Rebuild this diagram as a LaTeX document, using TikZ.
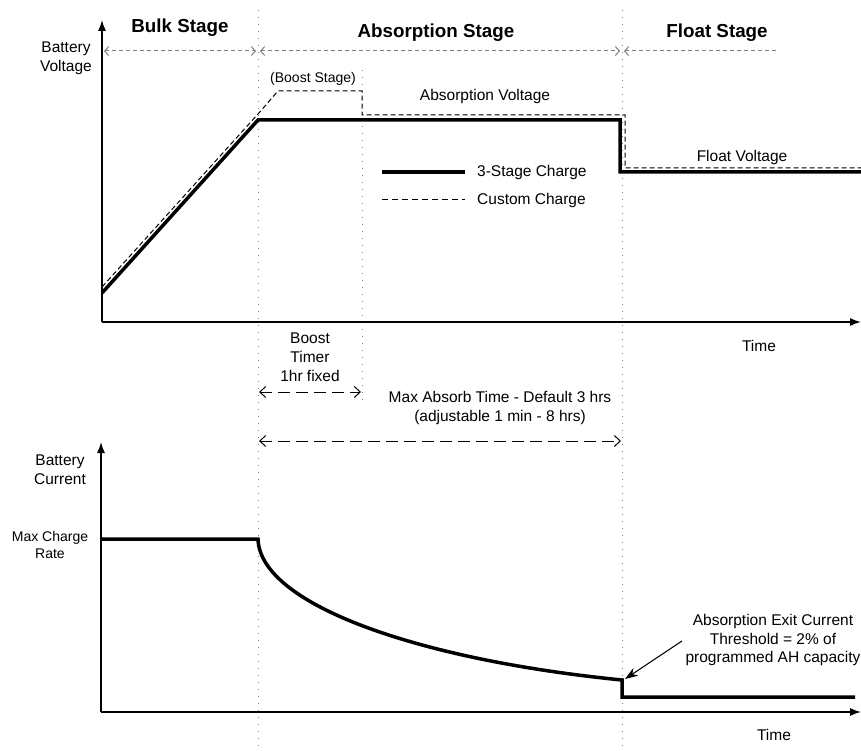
\documentclass[tikz,border=0pt]{standalone}
\usepackage{fontspec}
\setmainfont{Liberation Sans}
\usepackage{tikz}
\usetikzlibrary{arrows.meta}
\tikzset{
  txt/.style={inner sep=0pt, align=center, font=\fontsize{15.5}{19}\selectfont},
  smalltxt/.style={inner sep=0pt, align=center, font=\fontsize{14}{17}\selectfont},
  stagetxt/.style={inner sep=0pt, font=\fontsize{18.8}{22}\selectfont\bfseries},
  axis/.style={line width=1.4pt, -{Latex[length=11pt,width=8pt]}},
  charge/.style={line width=3.5pt, line join=miter},
  custom/.style={line width=1pt, dash pattern=on 5pt off 3pt},
  divider/.style={gray, line width=1pt, dash pattern=on 1pt off 6pt},
  stagearrow/.style={gray, line width=1pt, dash pattern=on 4pt off 3pt},
  timearrow/.style={line width=1pt, dash pattern=on 12pt off 6pt, {Straight Barb[length=6pt,width=11pt]}-{Straight Barb[length=6pt,width=11pt]}}
}
\begin{document}
\begin{tikzpicture}[x=1pt, y=-1pt]
  \useasboundingbox (0,0) rectangle (861,751);
  % stage dividers
  \draw[divider] (258,10) -- (258,748);
  \draw[divider] (622,10) -- (622,748);
  \draw[divider] (362,70) -- (362,406);
  % stage headings
  \node[stagetxt] (bulk) at (180,28) {Bulk Stage};
  \node[stagetxt] (absorb) at (436,33) {Absorption Stage};
  \node[stagetxt] (float) at (717,33) {Float Stage};
  \draw[stagearrow, {Straight Barb[length=4pt,width=9pt]}-{Straight Barb[length=4pt,width=9pt]}] (104,51) -- (256,51);
  \draw[stagearrow, {Straight Barb[length=4pt,width=9pt]}-{Straight Barb[length=4pt,width=9pt]}] (260,51) -- (620,51);
  \draw[stagearrow, {Straight Barb[length=4pt,width=9pt]}-] (624,51) -- (778,51);
  % voltage graph
  \coordinate (vo) at (102,322);
  \draw[axis] (vo) -- (102,20);
  \draw[axis] (vo) -- (861,322);
  \node[txt] (vlabel) at (66,58) {Battery\\Voltage};
  \node[txt] (vtime) at (759,346) {Time};
  \draw[custom] (102,287) -- (258,114) -- (278,91) -- (362,91) -- (362,115)
    -- (625,115) -- (625,168) -- (861,168);
  \draw[charge] (102,293) -- (258,120) -- (620,120) -- (620,172) -- (861,172);
  \node[smalltxt] (boost) at (313,79) {(Boost Stage)};
  \node[txt] (absv) at (485,96) {Absorption Voltage};
  \node[txt] (floatv) at (742,157) {Float Voltage};
  % legend
  \draw[charge] (382,172) -- (465,172);
  \node[txt, anchor=west] (leg1) at (477,172) {3-Stage Charge};
  \draw[line width=1pt, dash pattern=on 6pt off 4pt] (382,200) -- (465,200);
  \node[txt, anchor=west] (leg2) at (477,200) {Custom Charge};
  % timers
  \node[txt] (timer) at (310,357) {Boost\\Timer\\1hr fixed};
  \draw[timearrow] (259,392) -- (361,392);
  \node[txt] (maxabs) at (500,408) {Max Absorb Time - Default 3 hrs\\(adjustable 1 min - 8 hrs)};
  \draw[timearrow] (259,441) -- (621,441);
  % current graph
  \coordinate (io) at (101,712);
  \draw[axis] (io) -- (101,442);
  \draw[axis] (io) -- (861,712);
  \node[txt] (ilabel) at (60,470) {Battery\\Current};
  \node[smalltxt] (maxrate) at (50,545) {Max Charge\\Rate};
  \node[txt] (itime) at (774,735) {Time};
  \coordinate (exit) at (622,680);
  \draw[charge] (101,539) -- (258,539) .. controls (260,605) and (420,660) .. (exit)
    -- (622,697) -- (855,697);
  \node[txt, font=\fontsize{15.5}{18.5}\selectfont] (exitnote) at (773,640) {Absorption Exit Current\\Threshold = 2\% of\\programmed AH capacity};
  \draw[line width=1pt, -{Stealth[length=13pt,width=9pt]}] (682,641) -- (625,679);
\end{tikzpicture}
\end{document}
